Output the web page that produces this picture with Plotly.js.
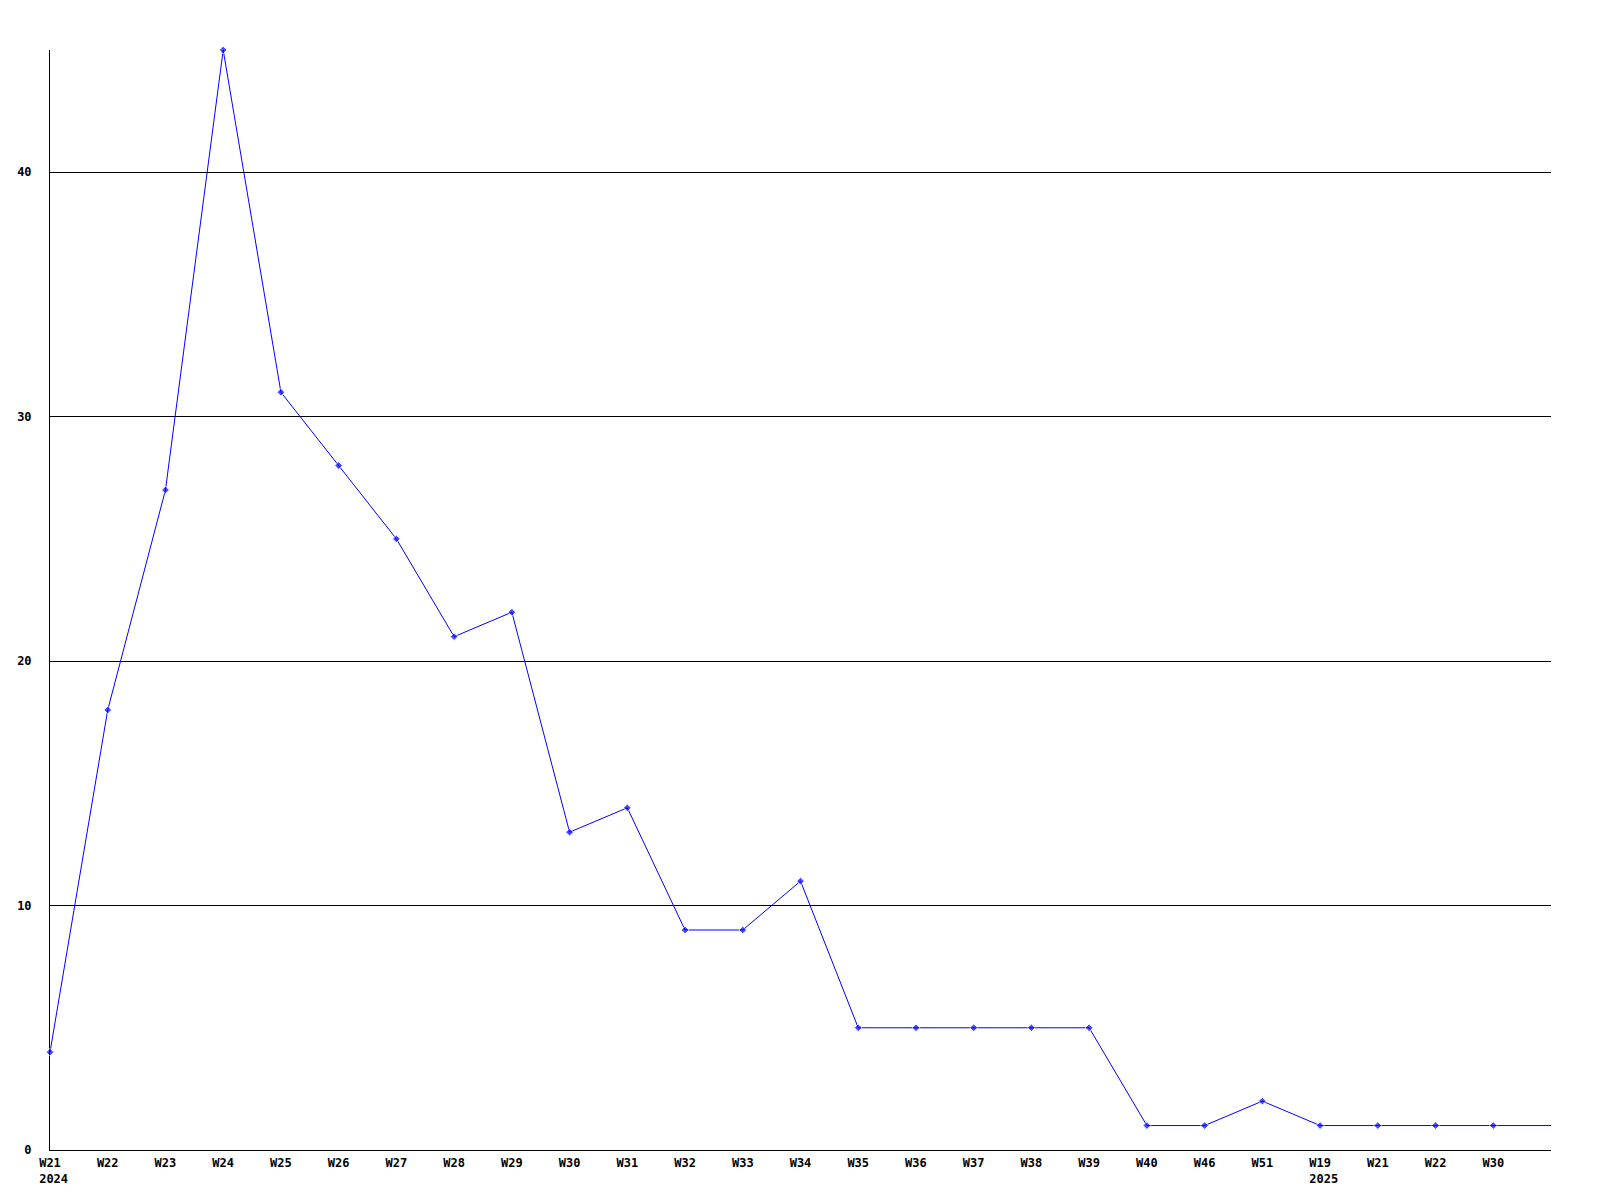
<!DOCTYPE html>
<html>
<head>
<meta charset="utf-8">
<script src="https://cdn.plot.ly/plotly-3.0.1.min.js"></script>
<style>html,body{margin:0;padding:0;background:#fff}#chart{width:1600px;height:1200px}</style>
</head>
<body>
<div id="chart"></div>
<script>
const weekLabels = ["W21<br>\u00a02024","W22","W23","W24","W25","W26","W27","W28","W29","W30","W31","W32","W33","W34","W35","W36","W37","W38","W39","W40","W46","W51","W19<br>\u00a02025","W21","W22","W30",""];
const counts = [4,18,27,45,31,28,25,21,22,13,14,9,9,11,5,5,5,5,5,1,1,2,1,1,1,1,1];
const yTicks = [0,10,20,30,40];

const xs = weekLabels.map((_, i) => i);
const markerSizes = weekLabels.map(l => l === "" ? 0 : 6);

const tickFont = {family: "DejaVu Sans Mono", size: 12, color: "#000", weight: "bold"};

Plotly.newPlot("chart", [{
  x: xs,
  y: counts,
  type: "scatter",
  mode: "lines+markers",
  line: {color: "#0000ff", width: 1},
  marker: {color: "#0000ff", size: markerSizes, symbol: "diamond"},
  cliponaxis: false,
  hoverinfo: "x+y"
}], {
  width: 1600, height: 1200,
  margin: {l: 50, r: 49, t: 50, b: 50},
  paper_bgcolor: "#fff", plot_bgcolor: "#fff",
  showlegend: false,
  xaxis: {
    range: [0, xs.length - 1],
    tickmode: "array", tickvals: xs, ticktext: weekLabels,
    showgrid: false, zeroline: false,
    showline: true, linecolor: "#000", linewidth: 1,
    layer: "below traces",
    ticks: "", tickfont: tickFont, ticklabelstandoff: 2
  },
  yaxis: {
    range: [0, 45],
    tickmode: "array", tickvals: yTicks,
    showgrid: true, gridcolor: "#000", gridwidth: 1,
    zeroline: false,
    showline: true, linecolor: "#000", linewidth: 1,
    layer: "below traces",
    ticks: "", tickfont: tickFont, ticklabelstandoff: 15
  }
}, {displayModeBar: false, staticPlot: true});
</script>
</body>
</html>
